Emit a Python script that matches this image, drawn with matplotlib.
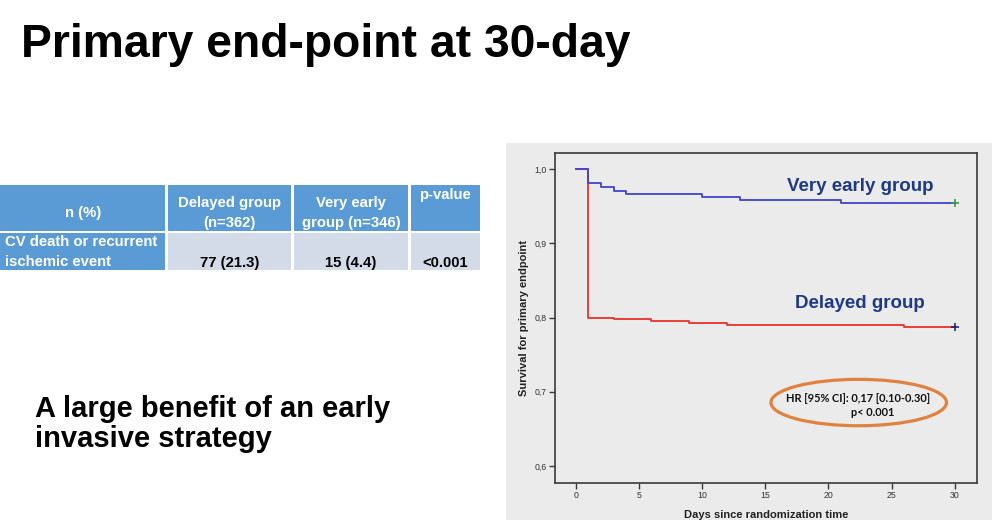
import matplotlib
matplotlib.use("Agg")
import matplotlib.pyplot as plt
from matplotlib.patches import Rectangle, Ellipse

# ---------------- data ----------------
title = "Primary end-point at 30-day"
subtitle_lines = ["A large benefit of an early", "invasive strategy"]

table_header = ["n (%)", "Delayed group\n(n=362)", "Very early\ngroup (n=346)", "p-value"]
table_row_label = "CV death or recurrent\nischemic event"
table_row_values = ["77 (21.3)", "15 (4.4)", "<0.001"]

early_days = [0, 1, 2, 3, 4, 10, 13, 21, 30]
early_surv = [1.000, 0.982, 0.976, 0.971, 0.967, 0.962, 0.959, 0.955, 0.955]
delayed_days = [0, 1, 3, 6, 9, 12, 26, 30]
delayed_surv = [1.000, 0.800, 0.798, 0.795, 0.793, 0.790, 0.787, 0.787]

x_ticks = [0, 5, 10, 15, 20, 25, 30]
y_ticks = [0.6, 0.7, 0.8, 0.9, 1.0]
y_tick_labels = ["0,6", "0,7", "0,8", "0,9", "1,0"]

hr_text = "HR [95% CI]: 0,17 [0.10-0.30]"
p_text = "p< 0.001"

# ---------------- figure ----------------
W, H = 1000, 527
fig = plt.figure(figsize=(W / 100, H / 100), dpi=100)
fig.patch.set_facecolor("white")

# background overlay axes in pixel coords
bg = fig.add_axes([0, 0, 1, 1])
bg.set_xlim(0, W)
bg.set_ylim(H, 0)
bg.axis("off")

sans = ["Liberation Sans", "DejaVu Sans"]

bg.text(21, 57, title, fontsize=33.3, fontweight="bold", family=sans,
        ha="left", va="baseline", color="black")
bg.text(35, 417, subtitle_lines[0], fontsize=21, fontweight="bold", family=sans,
        ha="left", va="baseline", color="black")
bg.text(35, 447, subtitle_lines[1], fontsize=21, fontweight="bold", family=sans,
        ha="left", va="baseline", color="black")

# table
hdr_blue = "#5B9BD5"
row_light = "#D3DAE8"
col_x = [(0, 165), (168, 291), (294, 408), (411, 480)]
hdr_y = (185, 231)
row_y = (233, 270)
for i, (x0, x1) in enumerate(col_x):
    bg.add_patch(Rectangle((x0, hdr_y[0]), x1 - x0, hdr_y[1] - hdr_y[0],
                           facecolor=hdr_blue, edgecolor="none"))
    bg.add_patch(Rectangle((x0, row_y[0]), x1 - x0, row_y[1] - row_y[0],
                           facecolor=hdr_blue if i == 0 else row_light, edgecolor="none"))

tfs = 10.7
# header texts
bg.text(83, 213, table_header[0], fontsize=tfs, fontweight="bold", family=sans,
        color="white", ha="center", va="center")
for i, cx in [(1, 229.5), (2, 351)]:
    l1, l2 = table_header[i].split("\n")
    bg.text(cx, 203, l1, fontsize=tfs, fontweight="bold", family=sans,
            color="white", ha="center", va="center")
    bg.text(cx, 223.5, l2, fontsize=tfs, fontweight="bold", family=sans,
            color="white", ha="center", va="center")
bg.text(445, 195, table_header[3], fontsize=tfs, fontweight="bold", family=sans,
        color="white", ha="center", va="center")
rl1, rl2 = table_row_label.split("\n")
bg.text(5, 242, rl1, fontsize=tfs, fontweight="bold", family=sans,
        color="white", ha="left", va="center")
bg.text(5, 262, rl2, fontsize=tfs, fontweight="bold", family=sans,
        color="white", ha="left", va="center")
for val, cx in zip(table_row_values, [229.5, 351, 445]):
    bg.text(cx, 263, val, fontsize=tfs, fontweight="bold", family=sans,
            color="black", ha="center", va="center")

# grey chart panel
bg.add_patch(Rectangle((506, 143), 486, 377, facecolor="#EBEBEB", edgecolor="none"))

# ---------------- KM plot ----------------
ax = fig.add_axes([555 / W, 1 - 483 / H, (977 - 555) / W, (483 - 153) / H])
ax.set_facecolor("#EBEBEB")
ax.set_xlim(-1.63, 31.76)
ax.set_ylim(0.577, 1.022)

blue = "#4141D2"
red = "#E8332B"
ax.step(delayed_days, delayed_surv, where="post", color=red, lw=1.3, zorder=3)
ax.step(early_days, early_surv, where="post", color=blue, lw=1.3, zorder=4)
ax.plot([early_days[-1]], [early_surv[-1]], marker="+", color="#3A9A4A",
        markersize=6, mew=1.2, zorder=5)
ax.plot([delayed_days[-1]], [delayed_surv[-1]], marker="+", color="#1F2A6A",
        markersize=6, mew=1.2, zorder=5)

for s in ax.spines.values():
    s.set_color("#3A3A3A")
    s.set_linewidth(1.2)

ax.set_xticks(x_ticks)
ax.set_xticklabels([str(t) for t in x_ticks])
ax.set_yticks(y_ticks)
ax.set_yticklabels(y_tick_labels)
ax.tick_params(axis="both", direction="out", length=4, width=1, color="#3A3A3A",
               labelsize=6.3, labelcolor="#333333", pad=2)
for lab in ax.get_xticklabels() + ax.get_yticklabels():
    lab.set_family(sans)

ax.set_xlabel("Days since randomization time", fontsize=8, fontweight="bold",
              family=sans, labelpad=7, color="#222222")
ax.set_ylabel("Survival for primary endpoint", fontsize=8, fontweight="bold",
              family=sans, labelpad=4, color="#222222")

navy = "#1F3A85"
ax.text(22.5, 0.9765, "Very early group", fontsize=13.5, fontweight="bold",
        family=sans, color=navy, ha="center", va="center")
ax.text(22.5, 0.8195, "Delayed group", fontsize=13.5, fontweight="bold",
        family=sans, color=navy, ha="center", va="center")

# HR annotation with ellipse
ax.add_patch(Ellipse((22.4, 0.6855), width=176 / 12.667, height=46.5 / 743.0,
                     facecolor="none", edgecolor="#E0823F", lw=2.3, zorder=6))
hrfam = ["Lato", "DejaVu Sans"]
ax.text(22.35, 0.691, hr_text, fontsize=7.9, fontweight="bold", family=hrfam,
        color="#111111", ha="center", va="center", zorder=7)
ax.text(23.5, 0.6718, p_text, fontsize=7.9, fontweight="bold", family=hrfam,
        color="#111111", ha="center", va="center", zorder=7)

fig.savefig("out.png", dpi=100, facecolor="white")
